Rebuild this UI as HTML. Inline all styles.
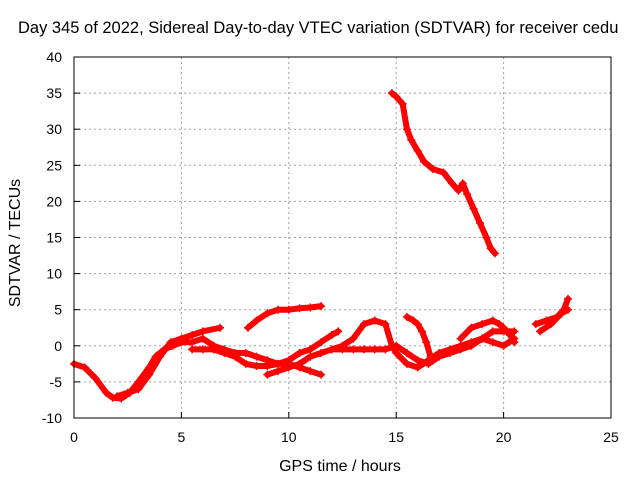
<!DOCTYPE html>
<html><head><meta charset="utf-8"><style>
body{margin:0;background:#fff;}
svg{display:block;font-family:"Liberation Sans",sans-serif;}
</style></head><body>
<svg id="chart" width="640" height="480" viewBox="0 0 640 480">
<rect x="0" y="0" width="640" height="480" fill="#fff"/>
<text x="18" y="33" font-size="16.5" text-anchor="start">Day 345 of 2022, Sidereal Day-to-day VTEC variation (SDTVAR) for receiver cedu</text>
<g id="grid"></g>
<g id="series"></g>
<g id="axes"></g>
<text x="340" y="471" font-size="16" text-anchor="middle">GPS time / hours</text>
<text transform="translate(20,243) rotate(-90)" font-size="16" text-anchor="middle">SDTVAR / TECUs</text>
</svg>
<script>
const xTicks=[0,5,10,15,20,25];
const yTicks=[-10,-5,0,5,10,15,20,25,30,35,40];
const trackA=[[14.8,35],[15.0,34.5],[15.3,33.5],[15.5,30],[15.7,28.5],[16.0,27],[16.3,25.5],[16.7,24.5],[17.2,24],[17.6,22.5],[17.9,21.5],[18.1,22.5],[18.3,21],[18.6,19],[18.9,17],[19.2,15],[19.4,13.5],[19.6,12.8]];
const trackB=[[0,-2.5],[0.5,-3],[1,-4.5],[1.5,-6.5],[1.8,-7.2],[2.2,-7.3],[2.6,-6.5],[3,-5],[3.5,-3],[3.8,-1.5],[4.2,-0.5],[4.6,0],[5,0.5],[5.5,0.5],[6,1],[6.5,0],[7,-0.5],[7.5,-1],[8,-1],[8.5,-1.5],[9,-2],[9.5,-2.5],[10,-2.5],[10.5,-3],[11,-3.5],[11.5,-4]];
const trackC=[[2,-7],[2.5,-6.5],[3,-6],[3.5,-4],[4,-1.5],[4.5,0.5],[5,1],[5.5,1.5],[6,2],[6.8,2.5]];
const trackD=[[5.5,-0.5],[6,-0.5],[6.5,-0.5],[7,-1],[7.5,-1.5],[8,-2.5],[8.5,-2.8],[9,-2.8],[9.5,-2.5],[10,-2],[10.5,-1],[11,-0.5],[11.5,0.5],[12,1.5],[12.3,2]];
const trackE=[[8.1,2.5],[8.5,3.5],[9,4.5],[9.5,5],[10,5],[10.5,5.2],[11,5.3],[11.5,5.5]];
const trackF=[[9,-4],[9.5,-3.5],[10,-3],[10.5,-2.5],[11,-1.5],[11.5,-1],[12,-0.5],[12.5,0],[13,1],[13.5,3],[14,3.5],[14.5,3],[14.8,0],[15,-1],[15.5,-2.5],[16,-3],[16.5,-2],[17,-1],[17.5,-0.5],[18,0],[18.5,0.5],[19,1],[19.5,2],[20,2],[20.5,2]];
const trackG=[[12,-0.5],[12.5,-0.5],[13,-0.5],[13.5,-0.5],[14,-0.5],[14.5,-0.5],[15,0],[15.5,-1],[16,-2],[16.5,-2.5],[17,-1.5],[17.5,-1],[18,-0.5],[18.5,0],[19,1],[19.5,0.5],[20,0],[20.5,1]];
const trackH=[[15.5,4],[15.8,3.5],[16,3],[16.2,2],[16.4,0.5],[16.6,-1.5]];
const trackI=[[18,1],[18.5,2.5],[19,3],[19.5,3.5],[19.8,3],[20,2.5],[20.3,1.5],[20.5,0.5]];
const trackJ=[[21.5,3],[22,3.5],[22.5,4],[22.8,5],[23,6.5]];
const trackK=[[21.7,2],[22.2,3],[22.7,4.5],[23,5]];
const tracks=[trackA,trackB,trackC,trackD,trackE,trackF,trackG,trackH,trackI,trackJ,trackK];

const X0=74,X1=611,Y0=418,Y1=57;
const xs=v=>X0+(v-0)/(25-0)*(X1-X0);
const ys=v=>Y0-(v+10)/(50)*(Y0-Y1);
const NS="http://www.w3.org/2000/svg";
function mk(tag,attrs,parent){const e=document.createElementNS(NS,tag);for(const k in attrs)e.setAttribute(k,attrs[k]);parent.appendChild(e);return e;}
const grid=document.getElementById('grid'),axes=document.getElementById('axes'),ser=document.getElementById('series');
xTicks.forEach(t=>{
 const x=xs(t);
 if(t>0&&t<25){const g=mk('line',{x1:x,x2:x,y1:Y1,y2:Y0,stroke:'#a0a0a0','stroke-dasharray':'2,3'},grid);
 
 }
 const tk=mk('line',{x1:x,x2:x,y1:Y0,y2:Y0-6,stroke:'#000'},axes);
 
 
 const tx=mk('text',{x:x,y:Y0+24,'font-size':14,'text-anchor':'middle'},axes);tx.textContent=t;
 
 
});
yTicks.forEach(t=>{
 const y=ys(t);
 if(t>-10&&t<40){const g=mk('line',{x1:X0,x2:X1,y1:y,y2:y,stroke:'#a0a0a0','stroke-dasharray':'2,3'},grid);
 
 }
 const tk=mk('line',{x1:X0,x2:X0+6,y1:y,y2:y,stroke:'#000'},axes);
 
 
 const tx=mk('text',{x:X0-12,y:y+5,'font-size':14,'text-anchor':'end'},axes);tx.textContent=t;
 
 
});
const fr=mk('rect',{x:X0,y:Y1,width:X1-X0,height:Y0-Y1,fill:'none',stroke:'#000'},axes);


tracks.forEach((tr,i)=>{
 const p=mk('polyline',{points:tr.map(d=>xs(d[0])+','+ys(d[1])).join(' '),fill:'none',stroke:'#ff0000','stroke-width':6,'stroke-linejoin':'round','stroke-linecap':'round'},ser);
 
 
 tr.forEach(d=>{
  const x=xs(d[0]),y=ys(d[1]);
  const m=mk('path',{d:`M${x-4},${y}H${x+4}M${x},${y-4}V${y+4}`,stroke:'#ff0000','stroke-width':1.5},ser);
  
  
 });
});
</script>
</body></html>
